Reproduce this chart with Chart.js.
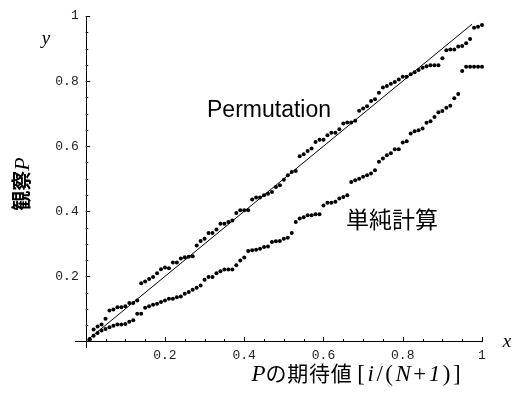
<!DOCTYPE html>
<html>
<head>
<meta charset="utf-8">
<script src="https://cdn.jsdelivr.net/npm/chart.js@4.4.1/dist/chart.umd.min.js"></script>
<style>
  html, body { margin: 0; padding: 0; background: #fff; }
  #wrap { width: 521px; height: 396px; position: relative; }
</style>
</head>
<body>
<div id="wrap"><canvas id="c" width="521" height="396"></canvas></div>
<script>
// ---- data ----
const xValues = [0.01,0.02,0.03,0.04,0.05,0.06,0.07,0.08,0.09,0.10,
  0.11,0.12,0.13,0.14,0.15,0.16,0.17,0.18,0.19,0.20,
  0.21,0.22,0.23,0.24,0.25,0.26,0.27,0.28,0.29,0.30,
  0.31,0.32,0.33,0.34,0.35,0.36,0.37,0.38,0.39,0.40,
  0.41,0.42,0.43,0.44,0.45,0.46,0.47,0.48,0.49,0.50,
  0.51,0.52,0.53,0.54,0.55,0.56,0.57,0.58,0.59,0.60,
  0.61,0.62,0.63,0.64,0.65,0.66,0.67,0.68,0.69,0.70,
  0.71,0.72,0.73,0.74,0.75,0.76,0.77,0.78,0.79,0.80,
  0.81,0.82,0.83,0.84,0.85,0.86,0.87,0.88,0.89,0.90,
  0.91,0.92,0.93,0.94,0.95,0.96,0.97,0.98,0.99,1.00];

const permutationY = [0.008,0.037,0.046,0.052,0.070,0.095,0.098,0.105,0.105,0.108,
  0.118,0.118,0.126,0.179,0.184,0.192,0.198,0.210,0.222,0.227,
  0.225,0.243,0.243,0.255,0.259,0.260,0.262,0.295,0.309,0.316,
  0.333,0.333,0.344,0.362,0.362,0.367,0.372,0.395,0.403,0.403,
  0.403,0.436,0.442,0.442,0.449,0.454,0.459,0.475,0.480,0.497,
  0.511,0.521,0.524,0.569,0.575,0.585,0.593,0.613,0.620,0.620,
  0.634,0.641,0.641,0.652,0.670,0.673,0.673,0.678,0.709,0.716,
  0.723,0.739,0.744,0.764,0.780,0.785,0.792,0.797,0.805,0.813,
  0.813,0.821,0.827,0.834,0.841,0.846,0.849,0.849,0.849,0.870,
  0.895,0.897,0.897,0.906,0.908,0.916,0.929,0.964,0.967,0.972];

const simpleY = [0.005,0.018,0.026,0.034,0.038,0.044,0.048,0.052,0.052,0.054,
  0.061,0.065,0.085,0.085,0.104,0.108,0.113,0.116,0.121,0.126,
  0.131,0.131,0.136,0.138,0.147,0.152,0.159,0.165,0.172,0.190,
  0.198,0.198,0.210,0.216,0.221,0.221,0.221,0.234,0.249,0.258,
  0.278,0.280,0.282,0.285,0.290,0.292,0.306,0.308,0.309,0.316,
  0.319,0.333,0.367,0.378,0.382,0.388,0.388,0.391,0.391,0.418,
  0.426,0.426,0.429,0.439,0.444,0.449,0.490,0.495,0.500,0.506,
  0.511,0.516,0.526,0.552,0.562,0.572,0.578,0.591,0.591,0.611,
  0.615,0.639,0.646,0.649,0.654,0.672,0.677,0.690,0.704,0.708,
  0.718,0.724,0.747,0.760,0.831,0.844,0.844,0.844,0.844,0.844];

const diagonalX = [0, 0.975];
const diagonalY = [0, 0.975];

const xTickValues = [0.2, 0.4, 0.6, 0.8, 1];
const xTickLabels = ["0.2", "0.4", "0.6", "0.8", "1"];
const yTickValues = [0.2, 0.4, 0.6, 0.8, 1];
const yTickLabels = ["0.2", "0.4", "0.6", "0.8", "1"];
const minorTickValues = [0.05,0.1,0.15,0.25,0.3,0.35,0.45,0.5,0.55,0.65,0.7,0.75,0.85,0.9,0.95];

const permutationLabel = "Permutation";
const simpleLabel = "単純計算";

// ---- build datasets ----
const toPoints = (xs, ys) => xs.map((x, i) => ({ x: x, y: ys[i] }));

const CJK = '"Noto Sans CJK JP"';
const SERIF = '"Liberation Serif"';

// draw runs of text in mixed fonts; sp = extra spacing after each character
function drawSegments(ctx, segs, x, y, align) {
  let total = 0;
  segs.forEach(s => {
    ctx.font = s.font;
    s.chars = Array.from(s.t).map(ch => ({ ch: ch, w: ctx.measureText(ch).width + (s.sp || 0) }));
    s.w = s.chars.reduce((a, c) => a + c.w, 0);
    total += s.w;
  });
  let cx = align === 'center' ? x - total / 2 : x;
  ctx.textAlign = 'left';
  segs.forEach(s => {
    ctx.font = s.font;
    s.chars.forEach(c => { ctx.fillText(c.ch, cx, y); cx += c.w; });
  });
}

const axesPlugin = {
  id: 'mathAxes',
  beforeDatasetsDraw(chart) {
    const ctx = chart.ctx;
    const xs = chart.scales.x, ys = chart.scales.y;
    const x0 = xs.getPixelForValue(0), y0 = ys.getPixelForValue(0);
    const L = chart.chartArea;
    ctx.save();
    ctx.strokeStyle = '#000';
    ctx.lineWidth = 1;
    // axis lines
    ctx.beginPath();
    ctx.moveTo(L.left, Math.round(y0) + 0.5); ctx.lineTo(L.right + 1, Math.round(y0) + 0.5);
    ctx.moveTo(Math.round(x0) + 0.5, L.top); ctx.lineTo(Math.round(x0) + 0.5, L.bottom);
    ctx.stroke();
    // major ticks (inward)
    ctx.beginPath();
    xTickValues.forEach(v => { const p = Math.round(xs.getPixelForValue(v)) + 0.5; ctx.moveTo(p, y0); ctx.lineTo(p, y0 - 4.5); });
    yTickValues.forEach(v => { const p = Math.round(ys.getPixelForValue(v)) + 0.5; ctx.moveTo(x0, p); ctx.lineTo(x0 + 4.5, p); });
    // minor ticks
    minorTickValues.forEach(v => { const p = Math.round(xs.getPixelForValue(v)) + 0.5; ctx.moveTo(p, y0); ctx.lineTo(p, y0 - 2.5); });
    minorTickValues.forEach(v => { const p = Math.round(ys.getPixelForValue(v)) + 0.5; ctx.moveTo(x0, p); ctx.lineTo(x0 + 2.5, p); });
    ctx.stroke();
    // tick labels
    ctx.fillStyle = '#222';
    ctx.font = '13px "Liberation Mono"';
    ctx.textBaseline = 'middle';
    ctx.textAlign = 'center';
    xTickValues.forEach((v, i) => ctx.fillText(xTickLabels[i], xs.getPixelForValue(v), y0 + 14));
    ctx.textAlign = 'right';
    yTickValues.forEach((v, i) => ctx.fillText(yTickLabels[i], x0 - 7, ys.getPixelForValue(v)));
    // axis letters
    ctx.fillStyle = '#000';
    ctx.font = 'italic 19px ' + SERIF;
    ctx.textAlign = 'center';
    ctx.textBaseline = 'alphabetic';
    ctx.fillText('y', 46, 44);
    ctx.fillText('x', 507, 347);
    // x axis title
    ctx.textBaseline = 'alphabetic';
    drawSegments(ctx, [
      { t: 'P', font: 'italic 23px ' + SERIF },
      { t: 'の期待値', font: '21px ' + CJK, sp: 0.8 },
      { t: ' ', font: '21px ' + CJK },
      { t: '[', font: '23px ' + SERIF, sp: 2.5 },
      { t: 'i', font: 'italic 23px ' + SERIF, sp: 2.5 },
      { t: '/(', font: '23px ' + SERIF, sp: 2.5 },
      { t: 'N', font: 'italic 23px ' + SERIF, sp: 2.5 },
      { t: '+', font: '23px ' + SERIF, sp: 2.5 },
      { t: '1', font: 'italic 23px ' + SERIF, sp: 2.5 },
      { t: ')', font: '23px ' + SERIF, sp: 2.5 },
      { t: ']', font: '23px ' + SERIF }
    ], 356, 381, 'center');
    // y axis title (rotated)
    ctx.save();
    ctx.translate(29, 184);
    ctx.rotate(-Math.PI / 2);
    drawSegments(ctx, [
      { t: '観察', font: 'bold 20px ' + CJK },
      { t: 'P', font: 'italic 22px ' + SERIF }
    ], 0, 0, 'center');
    ctx.restore();
    // annotations
    ctx.font = '23px "Liberation Sans"';
    ctx.textAlign = 'left';
    ctx.fillText(permutationLabel, 207, 117);
    ctx.font = '23px ' + CJK;
    ctx.fillText(simpleLabel, 346, 228);
    ctx.restore();
  }
};

new Chart(document.getElementById('c'), {
  type: 'scatter',
  data: {
    datasets: [
      { label: 'diagonal', type: 'line', data: toPoints(diagonalX, diagonalY),
        borderColor: '#000', borderWidth: 1, pointRadius: 0, fill: false, clip: false },
      { label: permutationLabel, data: toPoints(xValues, permutationY),
        backgroundColor: '#000', borderColor: '#000', pointRadius: 2, pointBorderWidth: 0, clip: false },
      { label: simpleLabel, data: toPoints(xValues, simpleY),
        backgroundColor: '#000', borderColor: '#000', pointRadius: 2, pointBorderWidth: 0, clip: false }
    ]
  },
  options: {
    responsive: false,
    animation: false,
    events: [],
    layout: { padding: { left: 75, right: 39, top: 16, bottom: 48 } },
    plugins: { legend: { display: false }, tooltip: { enabled: false } },
    scales: {
      x: { type: 'linear', display: false, min: -0.027, max: 1.0 },
      y: { type: 'linear', display: false, min: -0.02, max: 1.0 }
    }
  },
  plugins: [axesPlugin]
});
</script>
</body>
</html>
